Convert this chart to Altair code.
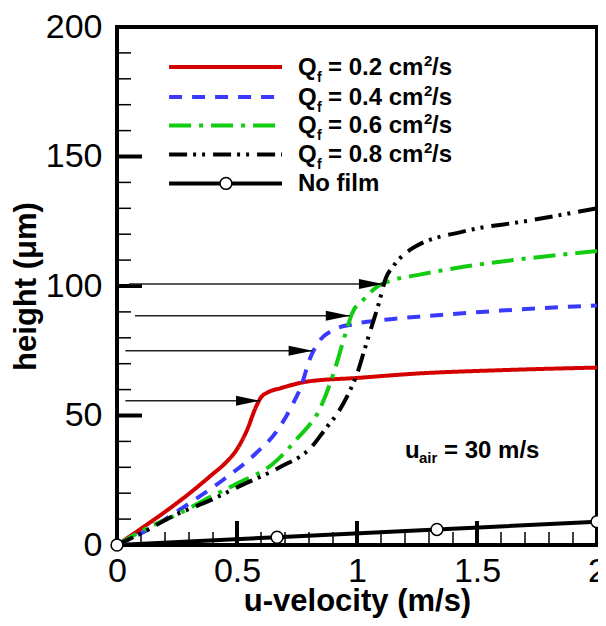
import altair as alt
import pandas as pd

# ---------------- data ----------------
series = ["Q_f = 0.2", "Q_f = 0.4", "Q_f = 0.6", "Q_f = 0.8"]
colors = ["#d40000", "#3a3aff", "#12cc12", "#000000"]
dashes = [[1, 0], [13, 10], [22, 8, 4, 8], [18, 6, 3, 6, 3, 8]]

x_02 = [0, 0.1, 0.2, 0.3, 0.4, 0.45, 0.5, 0.54, 0.58, 0.6, 0.63, 0.68, 0.8, 1.0, 1.25, 1.6, 2.0]
y_02 = [0, 6.3, 12.8, 19.8, 27.5, 31.5, 37, 44, 53.5, 57, 59, 60.5, 63.2, 64.5, 66.2, 67.5, 68.5]

x_04 = [0, 0.13, 0.3, 0.44, 0.58, 0.67, 0.73, 0.77, 0.8, 0.845, 0.9, 0.98, 1.1, 1.3, 1.6, 2.0]
y_04 = [0, 6, 16, 25, 35.5, 44.5, 54, 62, 71, 79, 83, 85.2, 86.8, 88.5, 90.5, 92.5]

x_06 = [0, 0.11, 0.26, 0.39, 0.5, 0.65, 0.75, 0.85, 0.91, 0.95, 0.98, 1.03, 1.08, 1.15, 1.25, 1.45, 1.65, 2.0]
y_06 = [0, 5.8, 12.2, 18.6, 23.7, 31.4, 41, 53.5, 68.5, 81, 89.5, 95, 99.5, 102.3, 104.2, 107.5, 110, 113.5]

x_08 = [0, 0.1, 0.24, 0.39, 0.52, 0.68, 0.81, 0.87, 0.92, 0.97, 1.0, 1.03, 1.06, 1.09, 1.12, 1.15, 1.23, 1.45, 1.7, 2.0]
y_08 = [0, 4.5, 11.5, 17.3, 23.1, 30.1, 37.8, 45, 51, 59.5, 66, 75, 84, 93, 103, 107.5, 114.5, 121.2, 125, 130]

x_nofilm = [0, 0.667, 1.333, 2.0]
y_nofilm = [0, 3, 6, 9]

# arrows
arrow_y = [100.8, 88.5, 75.0, 55.7]
arrow_x0 = [0.05, 0.075, 0.035, 0.035]
arrow_tip = [1.108, 0.97, 0.815, 0.596]

# axis ticks
x_major = [0, 0.5, 1, 1.5, 2]
x_minor = [0.1, 0.2, 0.3, 0.4, 0.6, 0.7, 0.8, 0.9, 1.1, 1.2, 1.3, 1.4, 1.6, 1.7, 1.8, 1.9]
y_major = [0, 50, 100, 150, 200]
y_minor = [10, 20, 30, 40, 60, 70, 80, 90, 110, 120, 130, 140, 160, 170, 180, 190]

# legend (drawn in data coordinates)
legend_values = ["= 0.2 cm", "= 0.4 cm", "= 0.6 cm", "= 0.8 cm"]
legend_rows_y = [184.6, 173.0, 162.0, 150.8, 139.6]
legend_line_x = [0.217, 0.6875]
legend_circle_x = 0.454
legend_text_x = 0.754

uair_x = 1.2
uair_y = 33.6

# ---------------- build tables ----------------
xs = [x_02, x_04, x_06, x_08]
ys = [y_02, y_04, y_06, y_08]
curves = pd.concat(
    [pd.DataFrame({"x": xv, "y": yv, "series": s, "order": range(len(xv))})
     for xv, yv, s in zip(xs, ys, series)],
    ignore_index=True,
)
nofilm = pd.DataFrame({"x": x_nofilm, "y": y_nofilm})
arrows = pd.DataFrame({"x": arrow_x0, "x2": arrow_tip, "y": arrow_y})
heads = pd.DataFrame({"x": arrow_tip, "y": arrow_y})

leg_lines = pd.DataFrame({
    "x": [legend_line_x[0]] * 4, "x2": [legend_line_x[1]] * 4,
    "y": legend_rows_y[:4], "series": series,
})
leg_text = pd.DataFrame({"x": [legend_text_x] * 4, "y": legend_rows_y[:4], "val": legend_values})
nofilm_leg_line = pd.DataFrame({"x": [legend_line_x[0]], "x2": [legend_line_x[1]], "y": [legend_rows_y[4]]})
nofilm_leg_pt = pd.DataFrame({"x": [legend_circle_x], "y": [legend_rows_y[4]]})
nofilm_leg_txt = pd.DataFrame({"x": [legend_text_x], "y": [legend_rows_y[4]], "t": ["No film"]})
uair = pd.DataFrame({"x": [uair_x], "y": [uair_y]})

FONT = "Liberation Sans"
W, H = 480, 518

xs_ = alt.Scale(domain=[0, 2], nice=False, zero=False)
ys_ = alt.Scale(domain=[0, 200], nice=False, zero=False)

X = alt.X("x:Q", scale=xs_, axis=alt.Axis(
    values=x_major, format="~g", ticks=False, domain=False, grid=False, labelFlush=False,
    labelFont=FONT, labelFontSize=34, labelColor="black", labelPadding=9,
    title="u-velocity (m/s)", titleFont=FONT, titleFontSize=31, titleFontWeight="bold",
    titleColor="black", titleY=65, titleBaseline="alphabetic"))
Y = alt.Y("y:Q", scale=ys_, axis=alt.Axis(
    values=y_major, format="d", ticks=False, domain=False, grid=False, labelFlush=False,
    labelFont=FONT, labelFontSize=34, labelColor="black", labelPadding=15,
    title="height (\u03bcm)", titleFont=FONT, titleFontSize=31, titleFontWeight="bold",
    titleColor="black", titleX=-82, titleBaseline="alphabetic"))
X2 = alt.X2("x2")

color_enc = alt.Color("series:N", scale=alt.Scale(domain=series, range=colors), legend=None)
dash_enc = alt.StrokeDash("series:N", scale=alt.Scale(domain=series, range=dashes), legend=None)

layers = []

# ticks (inward)
layers.append(alt.Chart(pd.DataFrame({"x": x_minor})).mark_rule(color="black", strokeWidth=1.5)
              .encode(x=X, y=alt.value(H), y2=alt.value(H - 13)))
layers.append(alt.Chart(pd.DataFrame({"x": x_major})).mark_rule(color="black", strokeWidth=4)
              .encode(x=X, y=alt.value(H), y2=alt.value(H - 24)))
layers.append(alt.Chart(pd.DataFrame({"y": y_minor})).mark_rule(color="black", strokeWidth=1.5)
              .encode(y=Y, x=alt.value(0), x2=alt.value(14)))
layers.append(alt.Chart(pd.DataFrame({"y": y_major})).mark_rule(color="black", strokeWidth=4)
              .encode(y=Y, x=alt.value(0), x2=alt.value(25)))

# no film line
layers.append(alt.Chart(nofilm).mark_line(color="black", strokeWidth=4).encode(x=X, y=Y))

# curves
layers.append(alt.Chart(curves).mark_line(strokeWidth=4, interpolate="monotone").encode(
    x=X, y=Y, color=color_enc, strokeDash=dash_enc, detail="series:N", order="order:Q"))

layers.append(alt.Chart(nofilm).mark_point(shape="circle", size=140, filled=True, fill="white",
                                           stroke="black", strokeWidth=1.5, opacity=1)
              .encode(x=X, y=Y))

# arrows
layers.append(alt.Chart(arrows).mark_rule(color="#222222", strokeWidth=1.5).encode(x=X, x2=X2, y=Y))
layers.append(alt.Chart(heads).mark_point(shape="M0,0L-2,-0.42L-2,0.42Z", size=576, filled=True,
                                          color="black", opacity=1)
              .encode(x=X, y=Y))

# legend
layers.append(alt.Chart(leg_lines).mark_rule(strokeWidth=4).encode(
    x=X, x2=X2, y=Y, color=color_enc, strokeDash=dash_enc))
layers.append(alt.Chart(nofilm_leg_line).mark_rule(color="black", strokeWidth=4).encode(x=X, x2=X2, y=Y))
layers.append(alt.Chart(nofilm_leg_pt).mark_point(shape="circle", size=140, filled=True, fill="white",
                                                  stroke="black", strokeWidth=1.5, opacity=1)
              .encode(x=X, y=Y))

def txt(df, text, size, dx, dy):
    return alt.Chart(df).mark_text(font=FONT, fontWeight="bold", fontSize=size, align="left",
                                   baseline="alphabetic", dx=dx, dy=dy, color="black").encode(
        x=X, y=Y, text=text)

layers.append(txt(leg_text, alt.value("Q"), 24, 0, 8))
layers.append(txt(leg_text, alt.value("f"), 14, 19, 15))
layers.append(txt(leg_text, "val:N", 24, 30, 8))
layers.append(txt(leg_text, alt.value("2"), 15, 126, -1))
layers.append(txt(leg_text, alt.value("/s"), 24, 134, 8))
layers.append(txt(nofilm_leg_txt, "t:N", 24, 0, 8))

layers.append(txt(uair, alt.value("u"), 24, 0, 0))
layers.append(txt(uair, alt.value("air"), 15, 14, 5))
layers.append(txt(uair, alt.value("= 30 m/s"), 24, 39, 0))

chart = alt.layer(*layers).properties(
    width=W, height=H,
    autosize=alt.AutoSizeParams(type="none"),
    padding={"left": 109, "top": 19, "right": 1, "bottom": 73},
).configure_view(stroke="black", strokeWidth=4)

chart.save("out.html", embed_options={"renderer": "svg", "actions": False})
